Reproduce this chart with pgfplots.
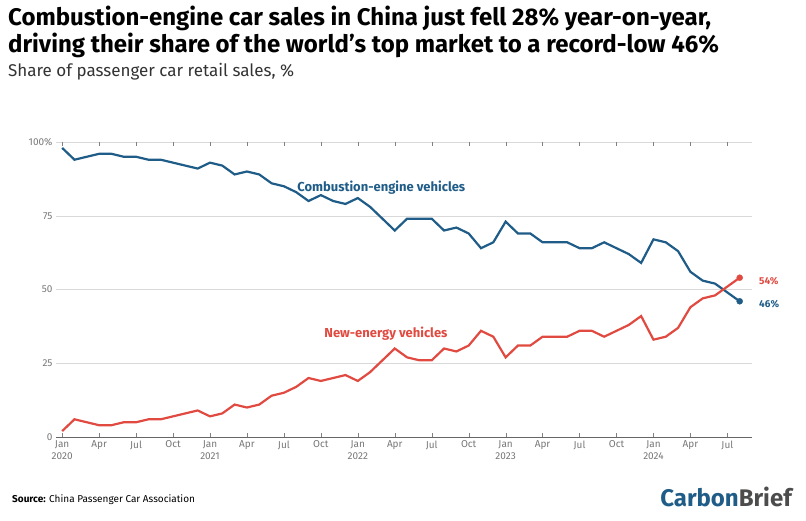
\documentclass[border=0pt]{standalone}
\usepackage{pgfplots}
\pgfplotsset{compat=1.18}
\usepackage{fontspec}
\setmainfont{Fira Sans}
\definecolor{iceblue}{HTML}{1F5C87}
\definecolor{nevred}{HTML}{E04A40}
\definecolor{tickgrey}{HTML}{777777}
\pgfplotstableread{
m ice nev
0 98 2
1 94 6
2 95 5
3 96 4
4 96 4
5 95 5
6 95 5
7 94 6
8 94 6
9 93 7
10 92 8
11 91 9
12 93 7
13 92 8
14 89 11
15 90 10
16 89 11
17 86 14
18 85 15
19 83 17
20 80 20
21 82 19
22 80 20
23 79 21
24 81 19
25 78 22
26 74 26
27 70 30
28 74 27
29 74 26
30 74 26
31 70 30
32 71 29
33 69 31
34 64 36
35 66 34
36 73 27
37 69 31
38 69 31
39 66 34
40 66 34
41 66 34
42 64 36
43 64 36
44 66 34
45 64 36
46 62 38
47 59 41
48 67 33
49 66 34
50 63 37
51 56 44
52 53 47
53 52 48
54 49 51
55 46 54
}\data
\begin{document}
\begin{tikzpicture}[x=1pt,y=1pt]
\path (0pt,0pt) rectangle (806pt,-520pt);
\node[anchor=north west,inner sep=0,font=\fontsize{24}{27}\selectfont\bfseries,align=left] at (8pt,-6pt) {Combustion-engine car sales in China just fell 28\% year-on-year,\\driving their share of the world's top market to a record-low 46\%};
\node[anchor=north west,inner sep=0,font=\fontsize{17}{20}\selectfont,text=black!80] at (8pt,-63pt) {Share of passenger car retail sales, \%};
\begin{axis}[at={(56pt,-437pt)},anchor=south west,scale only axis,
 width=696pt,height=295pt,xmin=-0.5,xmax=56,ymin=0,ymax=100,
 axis line style={draw=none},
 ytick={0,25,50,75,100},yticklabels={0,25,50,75,100\%},
 ymajorgrids,grid style={black!15},
 yticklabel style={font=\fontsize{10}{12}\selectfont,text=tickgrey},
 xtick={0,3,...,55},
 xticklabels={{Jan\\2020},Apr,Jul,Oct,{Jan\\2021},Apr,Jul,Oct,{Jan\\2022},Apr,Jul,Oct,{Jan\\2023},Apr,Jul,Oct,{Jan\\2024},Apr,Jul},
 xticklabel style={font=\fontsize{10}{12}\selectfont,text=tickgrey,align=center,anchor=north},
 major tick length=4pt,xtick style={black!50},ytick style={draw=none},
 clip=false]
\draw[black!60] (axis cs:-0.5,0) -- (axis cs:56,0);
\addplot[iceblue,line width=2.2pt,no marks] table[x=m,y=ice]{\data};
\addplot[nevred,line width=2.2pt,no marks] table[x=m,y=nev]{\data};
\addplot[iceblue,only marks,mark=*,mark size=3pt] coordinates {(55,46)};
\addplot[nevred,only marks,mark=*,mark size=3pt] coordinates {(55,54)};
\node[iceblue,font=\fontsize{13}{15}\selectfont\bfseries,anchor=west] at (axis cs:18.8,84.5) {Combustion-engine vehicles};
\node[nevred,font=\fontsize{13}{15}\selectfont\bfseries,anchor=west] at (axis cs:21,35) {New-energy vehicles};
\node[iceblue,font=\fontsize{10}{12}\selectfont\bfseries,anchor=west] at (axis cs:56.3,45) {46\%};
\node[nevred,font=\fontsize{10}{12}\selectfont\bfseries,anchor=west] at (axis cs:56.3,53) {54\%};
\end{axis}
\node[anchor=west,inner sep=0,font=\fontsize{10}{12}\selectfont] at (12pt,-500pt) {\textbf{Source:} China Passenger Car Association};
\node[anchor=east,inner sep=0,font=\fontsize{24}{26}\selectfont\bfseries,text=iceblue] at (792pt,-497pt) {Carbon\textcolor{black!70}{Brief}};
\end{tikzpicture}
\end{document}
